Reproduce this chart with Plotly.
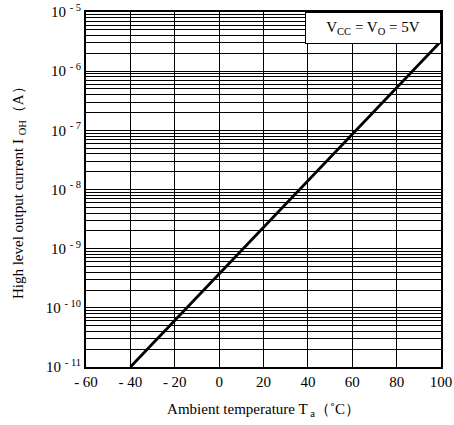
import plotly.graph_objects as go

# Data
temps = [-40, 100]
ioh = [1e-11, 3.2e-6]

x_ticks = [-60, -40, -20, 0, 20, 40, 60, 80, 100]
x_labels = ["- 60", "- 40", "- 20", "0", "20", "40", "60", "80", "100"]
y_exps = [-11, -10, -9, -8, -7, -6, -5]
y_ticks = [10.0 ** e for e in y_exps]
y_labels = ["10 <sup>- %d</sup>" % (-e) for e in y_exps]
minor_vals = [m * 10.0 ** e for e in y_exps[:-1] for m in range(2, 10)]

font_family = "Liberation Serif"

fig = go.Figure()
fig.add_trace(go.Scatter(x=temps, y=ioh, mode="lines",
                         line=dict(color="black", width=2.8),
                         showlegend=False, hoverinfo="skip"))

fig.update_layout(
    width=454, height=425,
    margin=dict(l=86, r=13, t=12, b=58),
    paper_bgcolor="white", plot_bgcolor="white",
    font=dict(family=font_family, size=15, color="black"),
    xaxis=dict(range=[-60, 100], tickvals=x_ticks, ticktext=x_labels,
               automargin=False,
               showgrid=True, gridcolor="black", gridwidth=1,
               showline=True, linecolor="black", linewidth=2, mirror=True,
               ticks="", zeroline=False, tickfont=dict(size=15),
               title=dict(text="Ambient temperature T<sub> a</sub>（˚C）",
                          font=dict(size=15, family=font_family), standoff=14)),
    yaxis=dict(type="log", range=[-11, -5], tickvals=y_ticks, ticktext=y_labels,
               automargin=False,
               showgrid=True, gridcolor="black", gridwidth=1,
               showline=True, linecolor="black", linewidth=2, mirror=True,
               ticks="", zeroline=False, tickfont=dict(size=15),
               minor=dict(tickvals=minor_vals, showgrid=True, gridcolor="black", gridwidth=1, ticks="")),
)

fig.add_annotation(xref="paper", yref="paper", x=-0.19, y=0.5, xanchor="center", yanchor="middle",
                   text="High level output current I <sub>OH</sub>（A）", textangle=-90,
                   showarrow=False, font=dict(size=15, family=font_family, color="black"))

fig.add_annotation(xref="paper", yref="paper", x=1, y=1, xanchor="right", yanchor="top",
                   text="V<sub>CC</sub> = V<sub>O</sub> = 5V", showarrow=False,
                   font=dict(size=15, family=font_family, color="black"),
                   bgcolor="white", bordercolor="black", borderwidth=1,
                   borderpad=6, width=122)

fig.write_html("out.html")
